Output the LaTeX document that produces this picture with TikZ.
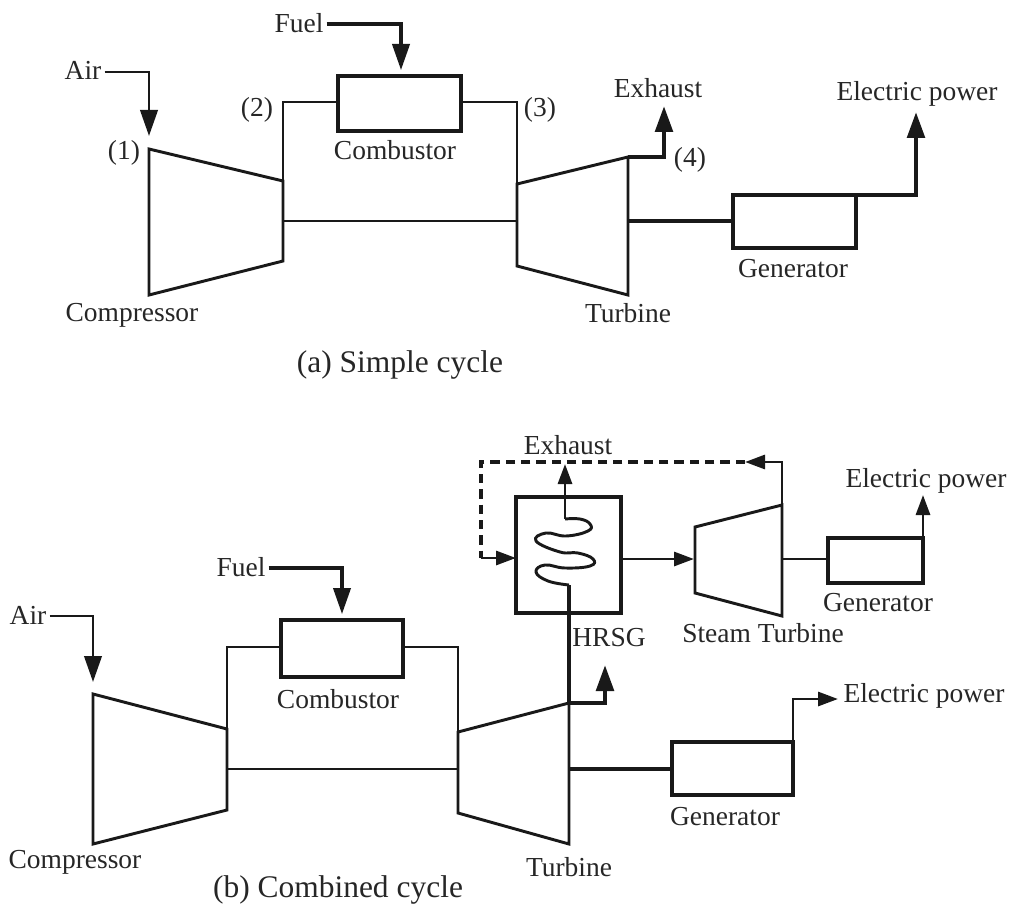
\documentclass[tikz,border=0pt]{standalone}
\usepackage{fontspec}
\setmainfont{Liberation Serif}
\usetikzlibrary{arrows.meta,calc}
\tikzset{
  line/.style={line width=2.2pt,line join=miter,color=black!90},
  heavy/.style={line width=3.4pt,color=black!90},
  thin line/.style={line width=2.2pt,color=black!90},
  dashline/.style={line width=2.3pt,color=black!90,dash pattern=on 7pt off 4.5pt},
  bighead/.style={-{Triangle[length=19.5pt,width=13pt]}},
  smallhead/.style={-{Triangle[length=15pt,width=10.5pt]}},
  unitbox/.style={draw=black!90,line width=2.3pt,inner sep=0pt,outer sep=0pt,fill=none},
  lbl/.style={inner sep=0pt,font=\fontsize{20.6}{22}\selectfont,text=black!85},
  cap text/.style={inner sep=0pt,font=\fontsize{23.6}{26}\selectfont,text=black!85},
}
\begin{document}
\begin{tikzpicture}[x=0.75pt,y=-0.75pt]
\useasboundingbox (0,0) rectangle (1013,913);

%% ---- (a) simple cycle ----
\coordinate (c1) at (149,149);
\coordinate (c2) at (283,181);
\coordinate (c3) at (283,261);
\coordinate (c4) at (149,295);
\coordinate (t1) at (517,184);
\coordinate (t2) at (628,157);
\coordinate (t3) at (628,295);
\coordinate (t4) at (517,266);
\coordinate (sL) at (283,221);
\coordinate (sR) at (517,221);
\coordinate (sT) at (628,221);
\draw[line] (c1)--(c2)--(c3)--(c4)--cycle;
\draw[line] (t1)--(t2)--(t3)--(t4)--cycle;
\node[unitbox,minimum width=92.25pt,minimum height=41.25pt] (comb) at (399.5,103.5) {};
\node[unitbox,minimum width=92.25pt,minimum height=39.75pt] (gen) at (794.5,221.5) {};
\draw[line] (c2)--(283,102)--(comb.west |- 0,102);
\draw[line] (comb.east |- 0,102)--(517,102)--(t1);
\draw[thin line] (sL)--(sR);
\draw[heavy] (sT)--(sT -| gen.west);
\node[lbl] (air) at (83,70) {Air};
\node[lbl] (fuel) at (299,23) {Fuel};
\node[lbl] (p1) at (124,153) {(1)};
\node[lbl] (p2) at (257,110) {(2)};
\node[lbl] (p3) at (540,110) {(3)};
\node[lbl] (p4) at (690,160) {(4)};
\node[lbl] (exh) at (658,88) {Exhaust};
\node[lbl] (elec) at (917,94) {Electric power};
\node[lbl] (combl) at (395,150) {Combustor};
\node[lbl] (compl) at (132,315) {Compressor};
\node[lbl] (turbl) at (628,313) {Turbine};
\node[lbl] (genl) at (793,269) {Generator};
\node[cap text] (capa) at (400,365) {(a) Simple cycle};
\coordinate (airend) at (149,136);
\coordinate (fuelend) at (401,70);
\coordinate (exhend) at (664,106);
\coordinate (elecend) at (916,112);
\draw[line,bighead] (air.east |- 0,72) ++(3,0) -- (149,72) -- (airend);
\draw[heavy] (fuel.east |- 0,24) ++(3,0) -- (401,24) -- (401,50);
\draw[line,bighead] (401,40) -- (fuelend);
\draw[heavy,bighead] (t2)--(664,157)--(exhend);
\draw[heavy,bighead] (gen.north east)--(916,195)--(elecend);

%% ---- (b) combined cycle ----
\coordinate (bc1) at (93,694);
\coordinate (bc2) at (227,729);
\coordinate (bc3) at (227,810);
\coordinate (bc4) at (93,844);
\coordinate (bt1) at (458,732);
\coordinate (bt2) at (569,703);
\coordinate (bt3) at (569,844);
\coordinate (bt4) at (458,813);
\coordinate (bsL) at (227,769);
\coordinate (bsR) at (458,769);
\coordinate (bsT) at (569,769);
\draw[line] (bc1)--(bc2)--(bc3)--(bc4)--cycle;
\draw[line] (bt1)--(bt2)--(bt3)--(bt4)--cycle;
\node[unitbox,minimum width=91.5pt,minimum height=42.75pt] (bcomb) at (342,648.5) {};
\node[unitbox,minimum width=90.75pt,minimum height=39.75pt] (bgen) at (732.5,768.5) {};
\node[unitbox,minimum width=78.75pt,minimum height=87pt] (hrsg) at (568.5,555) {};
\node[unitbox,minimum width=71.25pt,minimum height=33.75pt] (sgen) at (875.5,560.5) {};
\coordinate (st1) at (695,527);
\coordinate (st2) at (782,505);
\coordinate (st3) at (782,616);
\coordinate (st4) at (695,593);
\draw[thin line] (st1)--(st2)--(st3)--(st4)--cycle;
\draw[line] (bc2)--(227,647)--(bcomb.west |- 0,647);
\draw[line] (bcomb.east |- 0,647)--(458,647)--(bt1);
\draw[thin line] (bsL)--(bsR);
\draw[heavy] (bsT)--(bsT -| bgen.west);
\draw[line] (782,559)--(sgen.west |- 0,559);
\node[lbl] (bair) at (28,615) {Air};
\node[lbl] (bfuel) at (241,567) {Fuel};
\node[lbl] (bexh) at (568,445) {Exhaust};
\node[lbl] (belec1) at (926,481) {Electric power};
\node[lbl] (belec2) at (924,696) {Electric power};
\node[lbl] (bcombl) at (338,699) {Combustor};
\node[lbl] (bcompl) at (75,862) {Compressor};
\node[lbl] (bturbl) at (569,867) {Turbine};
\node[lbl] (bgenl) at (725,817) {Generator};
\node[lbl] (sgenl) at (878,603) {Generator};
\node[lbl] (stl) at (763,633) {Steam Turbine};
\node[lbl] (hrsgl) at (609,638) {HRSG};
\node[cap text] (capb) at (338,890) {(b) Combined cycle};
\draw[line,bighead] (bair.east |- 0,616) ++(3,0) -- (93,616) -- (93,682);
\draw[heavy] (bfuel.east |- 0,568) ++(3,0) -- (342,568) -- (342,590);
\draw[line,bighead] (342,585) -- (342,614);
\draw[heavy,bighead] (bt2)--(605,703)--(605,665);
\draw[thin line,smallhead] (bgen.north east)--(793,699)--(838,699);
\draw[thin line,smallhead] (sgen.north east)--(923,495);
%% HRSG gas path
\draw[heavy] (bt2)--(569,585);
\draw[line,line join=round] plot[smooth,tension=0.75] coordinates {
  (569,585) (548,581) (536,572) (545,565) (565,568) (590,566) (593,559) (578,553)
  (560,552) (536,541) (546,533) (566,536) (588,531) (590,524) (580,519) (565,519)};
\draw[line,smallhead] (565,519)--(565,464);
%% steam path
\coordinate (dashstart) at (745,462);
\coordinate (dashturn1) at (481,462);
\coordinate (dashturn2) at (481,558);
\draw[line,smallhead] (st2)--(782,462)--(dashstart);
\draw[dashline] (dashstart)--(dashturn1)--(dashturn2);
\draw[line,smallhead] (dashturn2)--(hrsg.west |- dashturn2);
\draw[line,smallhead] (hrsg.east |- 0,559)--(694,559);
\end{tikzpicture}
\end{document}
